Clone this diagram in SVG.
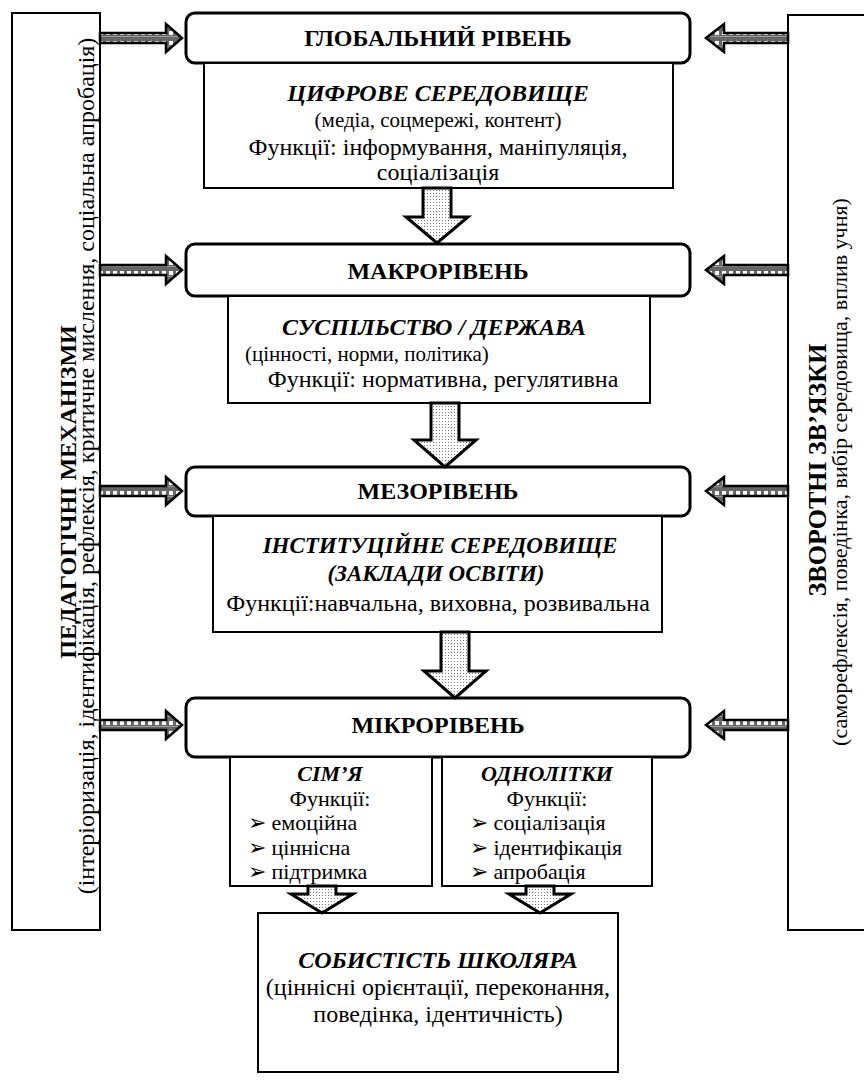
<svg xmlns="http://www.w3.org/2000/svg" width="864" height="1084" viewBox="0 0 864 1084">
<defs>
<pattern id="dots" width="3" height="3" patternUnits="userSpaceOnUse">
<rect width="3" height="3" fill="#fff"/>
<rect x="1" y="1" width="1" height="1" fill="#777"/>
</pattern>
<pattern id="chk" width="7" height="10" patternUnits="userSpaceOnUse">
<rect width="7" height="10" fill="#666"/>
<rect x="1" y="1" width="4" height="4" fill="#fff"/>
<rect x="0" y="6" width="7" height="1" fill="#999"/>
</pattern>
<style>
text{font-family:"Liberation Serif","Times New Roman",serif;fill:#000;font-size:24px}
.t{font-weight:bold;text-anchor:middle}
.bi{font-weight:bold;font-style:italic;text-anchor:middle}
.r{text-anchor:middle}
.s{font-size:21px}
.m{font-size:22px}
.lvl{fill:#fff;stroke:#000;stroke-width:3}
.box{fill:#fff;stroke:#000;stroke-width:2}
.da{fill:url(#dots);stroke:#000;stroke-width:3;stroke-linejoin:miter}
.sa{fill:url(#chk);stroke:#000;stroke-width:2.5;stroke-linejoin:miter}
</style>
</defs>

<g id="left-panel">
<rect class="box" x="12" y="13" width="88" height="917"/>
<text class="t" transform="translate(76,492) rotate(-90)">ПЕДАГОГІЧНІ МЕХАНІЗМИ</text>
<text class="r" transform="translate(94,466) rotate(-90)">(інтеріоризація, ідентифікація, рефлексія, критичне мислення, соціальна апробація)</text>
</g>

<g id="right-panel">
<rect class="box" x="788" y="15" width="90" height="915"/>
<text class="t" style="font-size:26px" transform="translate(826,470) rotate(-90)">ЗВОРОТНІ ЗВ’ЯЗКИ</text>
<text class="r m" transform="translate(847,472) rotate(-90)">(саморефлексія, поведінка, вибір середовища, вплив учня)</text>
</g>

<g id="global">
<rect class="lvl" x="186" y="13" width="504" height="50" rx="9"/>
<text class="t" x="438" y="46">ГЛОБАЛЬНИЙ РІВЕНЬ</text>
</g>
<g id="digital">
<rect class="box" x="204" y="63" width="469" height="125"/>
<text class="bi" x="438" y="101">ЦИФРОВЕ СЕРЕДОВИЩЕ</text>
<text class="r s" x="438" y="127">(медіа, соцмережі, контент)</text>
<text class="r" x="438" y="155">Функції: інформування, маніпуляція,</text>
<text class="r" x="438" y="180">соціалізація</text>
</g>

<g id="macro">
<rect class="lvl" x="186" y="244" width="504" height="52" rx="9"/>
<text class="t" x="438" y="279">МАКРОРІВЕНЬ</text>
</g>
<g id="society">
<rect class="box" x="228" y="296" width="422" height="107"/>
<text class="bi" x="434" y="335">СУСПІЛЬСТВО / ДЕРЖАВА</text>
<text class="s" x="245" y="361">(цінності, норми, політика)</text>
<text class="r" x="443" y="387">Функції: нормативна, регулятивна</text>
</g>

<g id="meso">
<rect class="lvl" x="186" y="467" width="504" height="49" rx="9"/>
<text class="t" x="438" y="499">МЕЗОРІВЕНЬ</text>
</g>
<g id="institutional">
<rect class="box" x="213" y="516" width="449" height="116"/>
<text class="bi" style="font-size:23px" x="440" y="553">ІНСТИТУЦІЙНЕ СЕРЕДОВИЩЕ</text>
<text class="bi" style="font-size:23px" x="436" y="581">(ЗАКЛАДИ ОСВІТИ)</text>
<text class="r" x="438" y="611">Функції:навчальна, виховна, розвивальна</text>
</g>

<g id="micro">
<rect class="lvl" x="186" y="698" width="504" height="59" rx="9"/>
<text class="t" x="438" y="733">МІКРОРІВЕНЬ</text>
</g>
<g id="family">
<rect class="box" x="230" y="757" width="202" height="129"/>
<text class="bi m" x="330" y="781">СІМ’Я</text>
<text class="r m" x="330" y="805.5">Функції:</text>
<text class="m" x="248" y="830">➢ емоційна</text>
<text class="m" x="248" y="854.5">➢ ціннісна</text>
<text class="m" x="248" y="879">➢ підтримка</text>
</g>
<g id="peers">
<rect class="box" x="442" y="757" width="210" height="129"/>
<text class="bi m" x="547" y="781">ОДНОЛІТКИ</text>
<text class="r m" x="547" y="805.5">Функції:</text>
<text class="m" x="470" y="830">➢ соціалізація</text>
<text class="m" x="470" y="854.5">➢ ідентифікація</text>
<text class="m" x="470" y="879">➢ апробація</text>
</g>

<g id="personality">
<rect class="box" x="258" y="913" width="360" height="159"/>
<text class="bi" x="438" y="968">СОБИСТІСТЬ ШКОЛЯРА</text>
<text class="r" x="438" y="995">(ціннісні орієнтації, переконання,</text>
<text class="r" x="438" y="1022">поведінка, ідентичність)</text>
</g>

<g id="connectors">
<polygon class="da" points="423,188 451,188 451,217 468,217 437,243 406,217 423,217"/>
<polygon class="da" points="431,403 459,403 459,440 476,440 445,467 414,440 431,440"/>
<polygon class="da" points="441,632 469,632 469,671 486,671 455,698 424,671 441,671"/>
<polygon class="da" points="308,886 336,886 336,894 353,894 322,913 291,894 308,894"/>
<polygon class="da" points="526,886 554,886 554,894 571,894 540,913 509,894 526,894"/>

<polygon class="sa" points="100,33 166,33 166,24 182,38 166,52 166,43 100,43"/>
<polygon class="sa" points="100,265 166,265 166,256 182,270 166,284 166,275 100,275"/>
<polygon class="sa" points="100,486 166,486 166,477 182,491 166,505 166,496 100,496"/>
<polygon class="sa" points="100,720 166,720 166,711 182,725 166,739 166,730 100,730"/>

<polygon class="sa" points="788,33 724,33 724,24 706,38 724,52 724,43 788,43"/>
<polygon class="sa" points="788,265 724,265 724,256 706,270 724,284 724,275 788,275"/>
<polygon class="sa" points="788,486 724,486 724,477 706,491 724,505 724,496 788,496"/>
<polygon class="sa" points="788,720 724,720 724,711 706,725 724,739 724,730 788,730"/>
</g>
</svg>
